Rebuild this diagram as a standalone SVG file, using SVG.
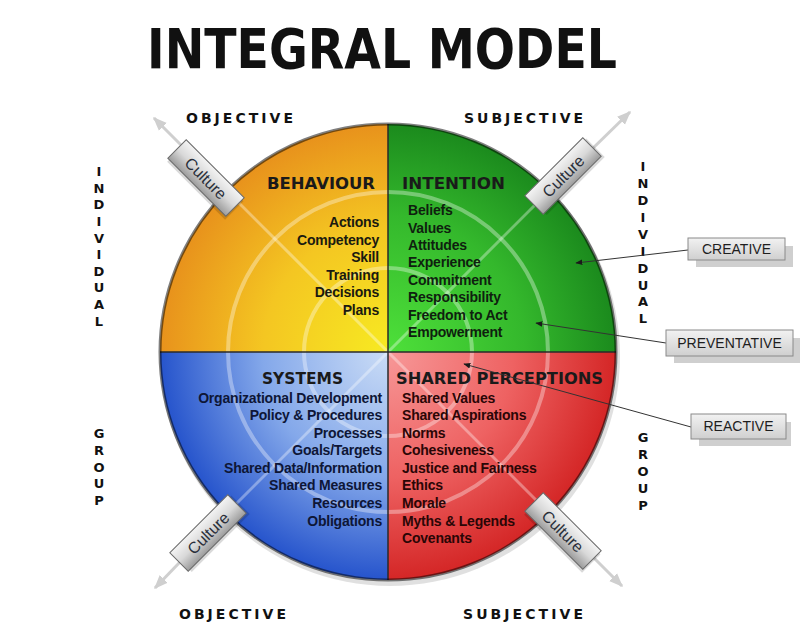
<svg xmlns="http://www.w3.org/2000/svg" width="800" height="623" viewBox="0 0 800 623">
<defs>
  <radialGradient id="gOrange" gradientUnits="userSpaceOnUse" cx="388" cy="352" r="228">
    <stop offset="0" stop-color="#f7ea22"/>
    <stop offset="0.55" stop-color="#f4c622"/>
    <stop offset="1" stop-color="#e8921c"/>
  </radialGradient>
  <radialGradient id="gGreen" gradientUnits="userSpaceOnUse" cx="388" cy="352" r="228">
    <stop offset="0" stop-color="#4ee03a"/>
    <stop offset="0.6" stop-color="#34b82c"/>
    <stop offset="1" stop-color="#1b8a1d"/>
  </radialGradient>
  <radialGradient id="gBlue" gradientUnits="userSpaceOnUse" cx="388" cy="352" r="228">
    <stop offset="0" stop-color="#cadcf6"/>
    <stop offset="0.55" stop-color="#84a8ea"/>
    <stop offset="1" stop-color="#2654cc"/>
  </radialGradient>
  <radialGradient id="gRed" gradientUnits="userSpaceOnUse" cx="388" cy="352" r="228">
    <stop offset="0" stop-color="#f79898"/>
    <stop offset="0.55" stop-color="#ee6262"/>
    <stop offset="1" stop-color="#d42626"/>
  </radialGradient>
  <linearGradient id="gBox" x1="0" y1="0" x2="0" y2="1">
    <stop offset="0" stop-color="#f4f4f4"/>
    <stop offset="0.5" stop-color="#d8d8d8"/>
    <stop offset="1" stop-color="#9c9c9c"/>
  </linearGradient>
  <linearGradient id="gCall" x1="0" y1="0" x2="0" y2="1">
    <stop offset="0" stop-color="#f2f2f2"/>
    <stop offset="1" stop-color="#cfcfcf"/>
  </linearGradient>
  <marker id="arrDark" viewBox="0 0 10 10" refX="9" refY="5" markerWidth="7" markerHeight="7" orient="auto-start-reverse" markerUnits="userSpaceOnUse">
    <path d="M0,1 L10,5 L0,9 Z" fill="#1a1a1a"/>
  </marker>
  <marker id="arrLight" viewBox="0 0 10 10" refX="9" refY="5" markerWidth="14" markerHeight="14" orient="auto" markerUnits="userSpaceOnUse">
    <path d="M0,1 L10,5 L0,9 Z" fill="#cfcfcf"/>
  </marker>
</defs>
<style>
  .title { font-family: "DejaVu Sans", Verdana, sans-serif; font-weight: bold; font-size: 55px; fill: #111; }
  .axis { font-family: "DejaVu Sans", Verdana, sans-serif; font-weight: bold; font-size: 14px; fill: #111; }
  .vert { font-family: "DejaVu Sans", Verdana, sans-serif; font-weight: bold; font-size: 13px; fill: #111; text-anchor: middle; }
  .head { font-family: "DejaVu Sans", Verdana, sans-serif; font-weight: bold; font-size: 16px; fill: #1a1a1a; }
  .item { font-family: "Liberation Sans", Arial, sans-serif; font-weight: bold; font-size: 14px; letter-spacing: -0.2px; }
  .culture { font-family: "Liberation Sans", Arial, sans-serif; font-size: 16px; fill: #2a2f3a; text-anchor: middle; }
  .callout { font-family: "Liberation Sans", Arial, sans-serif; font-size: 14px; fill: #1e1e1e; text-anchor: middle; }
  .cbox { fill: url(#gBox); stroke: #6a6a6a; stroke-width: 1; }
  .cshadow { fill: #000; opacity: 0.15; }
  .callbox { fill: url(#gCall); stroke: #8a8a8a; stroke-width: 1; }
  .callshadow { fill: #cfcfcf; }
  .leader { stroke: #333; stroke-width: 1; fill: none; marker-end: url(#arrDark); }
  .diagOut { stroke: #cfcfcf; stroke-width: 3; fill: none; }
  .ring { fill: none; stroke: #ffffff; stroke-opacity: 0.35; stroke-width: 4; }
</style>

<rect width="800" height="623" fill="#ffffff"/>

<text class="title" x="147" y="68" textLength="470" lengthAdjust="spacingAndGlyphs">INTEGRAL MODEL</text>

<text class="axis" x="186" y="123" textLength="107" lengthAdjust="spacing">OBJECTIVE</text>
<text class="axis" x="464" y="123" textLength="119" lengthAdjust="spacing">SUBJECTIVE</text>
<text class="axis" x="179" y="619" textLength="107" lengthAdjust="spacing">OBJECTIVE</text>
<text class="axis" x="463" y="619" textLength="120" lengthAdjust="spacing">SUBJECTIVE</text>

<g id="left-individual">
  <text class="vert" x="99" y="176">I</text>
  <text class="vert" x="99" y="193">N</text>
  <text class="vert" x="99" y="209">D</text>
  <text class="vert" x="99" y="226">I</text>
  <text class="vert" x="99" y="243">V</text>
  <text class="vert" x="99" y="259">I</text>
  <text class="vert" x="99" y="276">D</text>
  <text class="vert" x="99" y="292">U</text>
  <text class="vert" x="99" y="309">A</text>
  <text class="vert" x="99" y="326">L</text>
</g>
<g id="left-group">
  <text class="vert" x="99" y="438">G</text>
  <text class="vert" x="99" y="455">R</text>
  <text class="vert" x="99" y="472">O</text>
  <text class="vert" x="99" y="488">U</text>
  <text class="vert" x="99" y="505">P</text>
</g>
<g id="right-individual">
  <text class="vert" x="643" y="171">I</text>
  <text class="vert" x="643" y="188">N</text>
  <text class="vert" x="643" y="205">D</text>
  <text class="vert" x="643" y="222">I</text>
  <text class="vert" x="643" y="239">V</text>
  <text class="vert" x="643" y="256">I</text>
  <text class="vert" x="643" y="273">D</text>
  <text class="vert" x="643" y="290">U</text>
  <text class="vert" x="643" y="306">A</text>
  <text class="vert" x="643" y="323">L</text>
</g>
<g id="right-group">
  <text class="vert" x="643" y="442">G</text>
  <text class="vert" x="643" y="459">R</text>
  <text class="vert" x="643" y="476">O</text>
  <text class="vert" x="643" y="493">U</text>
  <text class="vert" x="643" y="510">P</text>
</g>

<g id="culture-axes">
  <line class="diagOut" x1="230" y1="194" x2="154" y2="118" marker-end="url(#arrLight)"/>
  <line class="diagOut" x1="546" y1="194" x2="630" y2="112" marker-end="url(#arrLight)"/>
  <line class="diagOut" x1="230" y1="510" x2="155" y2="588" marker-end="url(#arrLight)"/>
  <line class="diagOut" x1="546" y1="510" x2="622" y2="586" marker-end="url(#arrLight)"/>
</g>

<g id="circle">
  <ellipse cx="390" cy="356" rx="230" ry="230" fill="#000" opacity="0.12"/>
  <g id="q-behaviour">
    <path d="M388,352 L160,352 A228,228 0 0,1 388,124 Z" fill="url(#gOrange)"/>
  </g>
  <g id="q-intention">
    <path d="M388,352 L388,124 A228,228 0 0,1 616,352 Z" fill="url(#gGreen)"/>
  </g>
  <g id="q-systems">
    <path d="M388,352 L388,580 A228,228 0 0,1 160,352 Z" fill="url(#gBlue)"/>
  </g>
  <g id="q-shared">
    <path d="M388,352 L616,352 A228,228 0 0,1 388,580 Z" fill="url(#gRed)"/>
  </g>
  <circle cx="388" cy="352" r="160" class="ring"/>
  <circle cx="388" cy="352" r="84" class="ring"/>
  <line x1="227" y1="191" x2="549" y2="513" stroke="#fff" stroke-opacity="0.35" stroke-width="3"/>
  <line x1="549" y1="191" x2="227" y2="513" stroke="#fff" stroke-opacity="0.35" stroke-width="3"/>
  <line x1="388" y1="124" x2="388" y2="580" stroke="#2a2a2a" stroke-width="1.5"/>
  <line x1="160" y1="352" x2="616" y2="352" stroke="#2a2a2a" stroke-width="1.5"/>
  <circle cx="388" cy="352" r="228" fill="none" stroke="#000" stroke-opacity="0.5" stroke-width="3"/>
</g>

<g id="behaviour-text" text-anchor="end">
  <text class="head" x="375" y="189" textLength="108" lengthAdjust="spacingAndGlyphs">BEHAVIOUR</text>
  <text class="item" fill="#1a1a10" x="379" y="227">Actions</text>
  <text class="item" fill="#1a1a10" x="379" y="245">Competency</text>
  <text class="item" fill="#1a1a10" x="379" y="262">Skill</text>
  <text class="item" fill="#1a1a10" x="379" y="280">Training</text>
  <text class="item" fill="#1a1a10" x="379" y="297">Decisions</text>
  <text class="item" fill="#1a1a10" x="379" y="315">Plans</text>
</g>
<g id="intention-text">
  <text class="head" x="402" y="189" textLength="103" lengthAdjust="spacingAndGlyphs">INTENTION</text>
  <text class="item" fill="#0f1f0f" x="408" y="215">Beliefs</text>
  <text class="item" fill="#0f1f0f" x="408" y="233">Values</text>
  <text class="item" fill="#0f1f0f" x="408" y="250">Attitudes</text>
  <text class="item" fill="#0f1f0f" x="408" y="267">Experience</text>
  <text class="item" fill="#0f1f0f" x="408" y="285">Commitment</text>
  <text class="item" fill="#0f1f0f" x="408" y="302">Responsibility</text>
  <text class="item" fill="#0f1f0f" x="408" y="320">Freedom to Act</text>
  <text class="item" fill="#0f1f0f" x="408" y="337">Empowerment</text>
</g>
<g id="systems-text" text-anchor="end">
  <text class="head" x="343" y="384" textLength="81" lengthAdjust="spacingAndGlyphs">SYSTEMS</text>
  <text class="item" fill="#0e1636" x="382" y="403">Organizational Development</text>
  <text class="item" fill="#0e1636" x="382" y="420">Policy &amp; Procedures</text>
  <text class="item" fill="#0e1636" x="382" y="438">Processes</text>
  <text class="item" fill="#0e1636" x="382" y="455">Goals/Targets</text>
  <text class="item" fill="#0e1636" x="382" y="473">Shared Data/Information</text>
  <text class="item" fill="#0e1636" x="382" y="490">Shared Measures</text>
  <text class="item" fill="#0e1636" x="382" y="508">Resources</text>
  <text class="item" fill="#0e1636" x="382" y="526">Obligations</text>
</g>
<g id="shared-text">
  <text class="head" x="396" y="384" textLength="207" lengthAdjust="spacingAndGlyphs">SHARED PERCEPTIONS</text>
  <text class="item" fill="#2a0606" x="402" y="403">Shared Values</text>
  <text class="item" fill="#2a0606" x="402" y="420">Shared Aspirations</text>
  <text class="item" fill="#2a0606" x="402" y="438">Norms</text>
  <text class="item" fill="#2a0606" x="402" y="455">Cohesiveness</text>
  <text class="item" fill="#2a0606" x="402" y="473">Justice and Fairness</text>
  <text class="item" fill="#2a0606" x="402" y="490">Ethics</text>
  <text class="item" fill="#2a0606" x="402" y="508">Morale</text>
  <text class="item" fill="#2a0606" x="402" y="526">Myths &amp; Legends</text>
  <text class="item" fill="#2a0606" x="402" y="543">Covenants</text>
</g>

<g id="culture-tl" transform="translate(206,178) rotate(45)">
  <rect class="cshadow" x="-39" y="-10" width="82" height="26"/>
  <rect class="cbox" x="-41" y="-13" width="82" height="26"/>
  <text class="culture" x="0" y="6">Culture</text>
</g>
<g id="culture-tr" transform="translate(563,176) rotate(-45)">
  <rect class="cshadow" x="-39" y="-10" width="82" height="26"/>
  <rect class="cbox" x="-41" y="-13" width="82" height="26"/>
  <text class="culture" x="0" y="6">Culture</text>
</g>
<g id="culture-bl" transform="translate(208,533) rotate(-45)">
  <rect class="cshadow" x="-39" y="-10" width="82" height="26"/>
  <rect class="cbox" x="-41" y="-13" width="82" height="26"/>
  <text class="culture" x="0" y="6">Culture</text>
</g>
<g id="culture-br" transform="translate(563,531) rotate(45)">
  <rect class="cshadow" x="-39" y="-10" width="82" height="26"/>
  <rect class="cbox" x="-41" y="-13" width="82" height="26"/>
  <text class="culture" x="0" y="6">Culture</text>
</g>

<g id="connectors">
  <line class="leader" x1="688" y1="250" x2="576" y2="263"/>
  <line class="leader" x1="666" y1="343" x2="536" y2="323"/>
  <line class="leader" x1="691" y1="427" x2="464" y2="364"/>
</g>

<g id="creative">
  <rect class="callshadow" x="696" y="246" width="97" height="21"/>
  <rect class="callbox" x="688" y="238" width="97" height="22"/>
  <text class="callout" x="736.5" y="254">CREATIVE</text>
</g>
<g id="preventative">
  <rect class="callshadow" x="674" y="338" width="126" height="25"/>
  <rect class="callbox" x="666" y="330" width="127" height="26"/>
  <text class="callout" x="729.5" y="348">PREVENTATIVE</text>
</g>
<g id="reactive">
  <rect class="callshadow" x="699" y="422" width="92" height="24"/>
  <rect class="callbox" x="691" y="414" width="95" height="25"/>
  <text class="callout" x="738.5" y="431">REACTIVE</text>
</g>
</svg>
